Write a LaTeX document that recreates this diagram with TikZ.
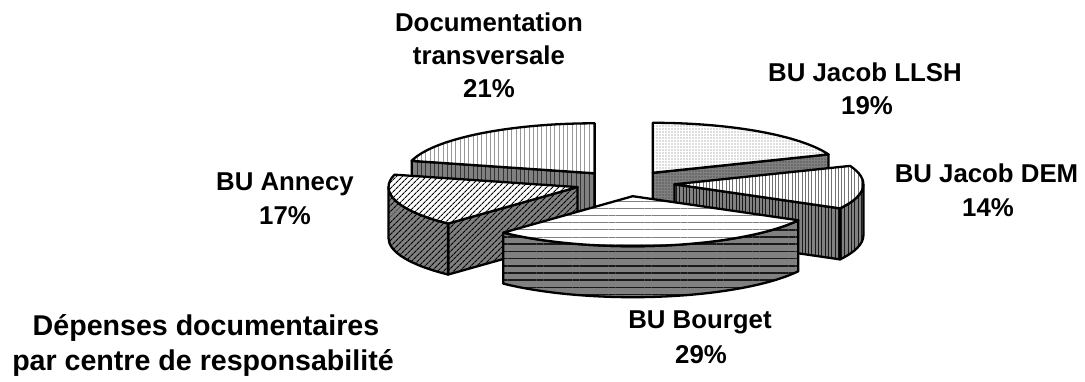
\documentclass[tikz,border=0pt]{standalone}
\usepackage{fontspec}
\setmainfont{Liberation Sans}
\usetikzlibrary{patterns.meta}
\tikzset{
  ell/.style={x radius=189, y radius=50},
  edge/.style={draw=black, line width=2.3pt, line join=round},
  doctop/.style={fill=white, postaction={pattern={Lines[angle=90,distance=4.3pt,line width=0.8pt]}, pattern color=black!40}, postaction={edge}},
  docside/.style={fill=black!50, postaction={pattern={Lines[angle=90,distance=4.3pt,line width=0.9pt]}, pattern color=black!80}, postaction={edge}},
  llshtop/.style={fill=white, postaction={pattern={Dots[distance=3pt,radius=0.6pt]}, pattern color=black!55}, postaction={edge}},
  llshside/.style={fill=black!50, postaction={pattern={Dots[distance=3pt,radius=0.6pt]}, pattern color=black!85}, postaction={edge}},
  demtop/.style={fill=white, postaction={pattern={Lines[angle=90,distance=3.3pt,line width=0.8pt]}, pattern color=black!55}, postaction={edge}},
  demside/.style={fill=black!50, postaction={pattern={Lines[angle=90,distance=3.3pt,line width=0.8pt]}, pattern color=black!90}, postaction={edge}},
  boutop/.style={fill=white, postaction={pattern={Lines[angle=0,distance=7.2pt,line width=1pt]}, pattern color=black!50}, postaction={edge}},
  bouside/.style={fill=black!50, postaction={pattern={Lines[angle=0,distance=7.2pt,line width=1.6pt]}, pattern color=black!90}, postaction={edge}},
  anntop/.style={fill=white, postaction={pattern={Lines[angle=45,distance=4pt,line width=1.2pt]}, pattern color=black}, postaction={edge}},
  annside/.style={fill=black!50, postaction={pattern={Lines[angle=45,distance=4pt,line width=1.2pt]}, pattern color=black}, postaction={edge}},
  lbl/.style={font=\fontsize{25.8}{30}\selectfont\bfseries, anchor=base, inner sep=0pt},
  ttl/.style={font=\fontsize{28.6}{34}\selectfont\bfseries, anchor=base, inner sep=0pt}
}
\begin{document}
\begin{tikzpicture}[x=1pt,y=1pt]
\useasboundingbox (0,0) rectangle (1085,381);

% Documentation transversale (90 -> 165.6)
\begin{scope}[shift={(594.7,207.7)}]
  \path[docside] (0,0) -- (165.6:189 and 50) -- ++(0,-51) -- (0,-51) -- cycle;
  \path[doctop] (0,0) -- (90:189 and 50) arc[start angle=90, end angle=165.6, ell] -- cycle;
\end{scope}

% BU Jacob LLSH (21.6 -> 90)
\begin{scope}[shift={(652.8,208.2)}]
  \path[llshside] (0,0) -- (21.6:189 and 50) -- ++(0,-51) -- (0,-51) -- cycle;
  \path[llshtop] (0,0) -- (21.6:189 and 50) arc[start angle=21.6, end angle=90, ell] -- cycle;
\end{scope}

% BU Annecy (165.6 -> 226.8)
\begin{scope}[shift={(577.5,193.9)}]
  \path[annside] (0,0) -- (226.8:189 and 50) -- ++(0,-51) -- (0,-51) -- cycle;
  \path[annside] (180:189 and 50) arc[start angle=180, end angle=226.8, ell] -- ++(0,-51) arc[start angle=226.8, end angle=180, ell] -- cycle;
  \path[anntop] (0,0) -- (165.6:189 and 50) arc[start angle=165.6, end angle=226.8, ell] -- cycle;
\end{scope}

% BU Jacob DEM (-28.8 -> 21.6)
\begin{scope}[shift={(674.4,196.7)}]
  \path[demside] (0,0) -- (-28.8:189 and 50) -- ++(0,-51) -- (0,-51) -- cycle;
  \path[demside] (-28.8:189 and 50) arc[start angle=-28.8, end angle=0, ell] -- ++(0,-51) arc[start angle=0, end angle=-28.8, ell] -- cycle;
  \path[demtop] (0,0) -- (-28.8:189 and 50) arc[start angle=-28.8, end angle=21.6, ell] -- cycle;
\end{scope}

% BU Bourget (-133.2 -> -28.8)
\begin{scope}[shift={(632.7,184.8)}]
  \path[bouside] (-133.2:189 and 50) arc[start angle=-133.2, end angle=-28.8, ell] -- ++(0,-51) arc[start angle=-28.8, end angle=-133.2, ell] -- cycle;
  \path[boutop] (0,0) -- (-133.2:189 and 50) arc[start angle=-133.2, end angle=-28.8, ell] -- cycle;
\end{scope}

% labels
\node[lbl] (docA) at (489,349.3) {Documentation};
\node[lbl] (docB) at (489,316) {transversale};
\node[lbl] (docC) at (489,283) {21\%};
\node[lbl] (llshA) at (865,299) {BU Jacob LLSH};
\node[lbl] (llshB) at (867,266) {19\%};
\node[lbl] (demA) at (986.5,199) {BU Jacob DEM};
\node[lbl] (demB) at (988,165) {14\%};
\node[lbl] (annA) at (285,191) {BU Annecy};
\node[lbl] (annB) at (285,157) {17\%};
\node[lbl] (bouA) at (700,53) {BU Bourget};
\node[lbl] (bouB) at (701,18) {29\%};
\node[ttl] (ttlA) at (206,46) {Dépenses documentaires};
\node[ttl] (ttlB) at (203,10.3) {par centre de responsabilité};
\end{tikzpicture}
\end{document}
